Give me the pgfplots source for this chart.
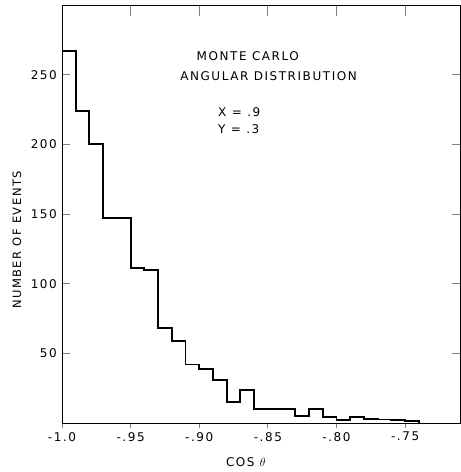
\documentclass[border=0pt]{standalone}
\usepackage{fontspec}
\setmainfont{DejaVu Sans}[LetterSpace=13]
\usepackage{pgfplots}
\pgfplotsset{compat=1.18}
\begin{document}
\fontsize{12}{14}\selectfont
\begin{tikzpicture}
\useasboundingbox (-62pt,-49pt) rectangle (399pt,423pt);
% main axis: frame, inward ticks on left and right
\begin{axis}[
  at={(0pt,0pt)}, anchor=south west,
  scale only axis, width=398pt, height=418pt,
  xmin=-1.0, xmax=-0.71, ymin=0, ymax=300,
  axis line style={line width=0.8pt},
  tick align=inside,
  major tick length=8pt,
  xtick=\empty,
  ytick={50,100,150,200,250},
  yticklabels={50,100,150,200,250},
  ytick style={line width=0.8pt},
  yticklabel style={font=\fontsize{12}{14}\selectfont, xshift=-1pt},
  ylabel={NUMBER OF EVENTS},
  ylabel style={at={(axis description cs:-0.113,0.438)}, anchor=center, font=\fontsize{11.5}{14}\selectfont},
  clip=false,
]
\addplot[const plot, line width=1.9pt, black] coordinates {
(-1.00,267) (-0.99,224) (-0.98,200) (-0.97,147) (-0.96,147)
(-0.95,111) (-0.94,110) (-0.93,68) (-0.92,59) (-0.91,42)
(-0.90,39) (-0.89,31) (-0.88,15) (-0.87,24) (-0.86,10)
(-0.85,10) (-0.84,10) (-0.83,5) (-0.82,10) (-0.81,4)
(-0.80,2) (-0.79,4) (-0.78,3) (-0.77,2.5) (-0.76,2)
(-0.75,1.5) (-0.74,1.5) (-0.74,0)
};
\node[anchor=center, font=\fontsize{12}{14}\selectfont] at (axis cs:-0.8646,263.6) {MONTE CARLO};
\node[anchor=center, font=\fontsize{12}{14}\selectfont] at (axis cs:-0.8495,249.3) {ANGULAR DISTRIBUTION};
\node[anchor=west, inner sep=0pt, font=\fontsize{12}{14}\selectfont] at (axis cs:-0.8863,223.4) {X = .9};
\node[anchor=west, inner sep=0pt, font=\fontsize{12}{14}\selectfont] at (axis cs:-0.8863,211) {Y = .3};
\end{axis}
% top axis: inward ticks
\begin{axis}[
  at={(0pt,0pt)}, anchor=south west,
  scale only axis, width=398pt, height=418pt,
  xmin=-1.0, xmax=-0.71, ymin=0, ymax=300,
  axis x line=top, axis y line=none,
  axis line style={line width=0.8pt, -},
  tick align=inside,
  major tick length=11pt,
  xtick={-0.95,-0.90,-0.85,-0.80,-0.75},
  xticklabels={},
  xtick style={line width=0.8pt},
]
\end{axis}
% bottom axis: outward ticks with labels
\begin{axis}[
  at={(0pt,0pt)}, anchor=south west,
  scale only axis, width=398pt, height=418pt,
  xmin=-1.0, xmax=-0.71, ymin=0, ymax=300,
  axis x line=bottom, axis y line=none,
  axis line style={line width=0.8pt, -},
  tick align=outside,
  major tick length=5pt,
  xtick={-1.0,-0.95,-0.90,-0.85,-0.80,-0.75},
  xticklabels={-1.0,-.95,-.90,-.85,-.80,-.75},
  xtick style={line width=0.8pt},
  xticklabel style={font=\fontsize{12}{14}\selectfont},
  xlabel={COS $\theta$},
  xlabel style={at={(axis description cs:0.462,-0.093)}, anchor=center, font=\fontsize{12}{14}\selectfont},
]
\end{axis}
\end{tikzpicture}
\end{document}
